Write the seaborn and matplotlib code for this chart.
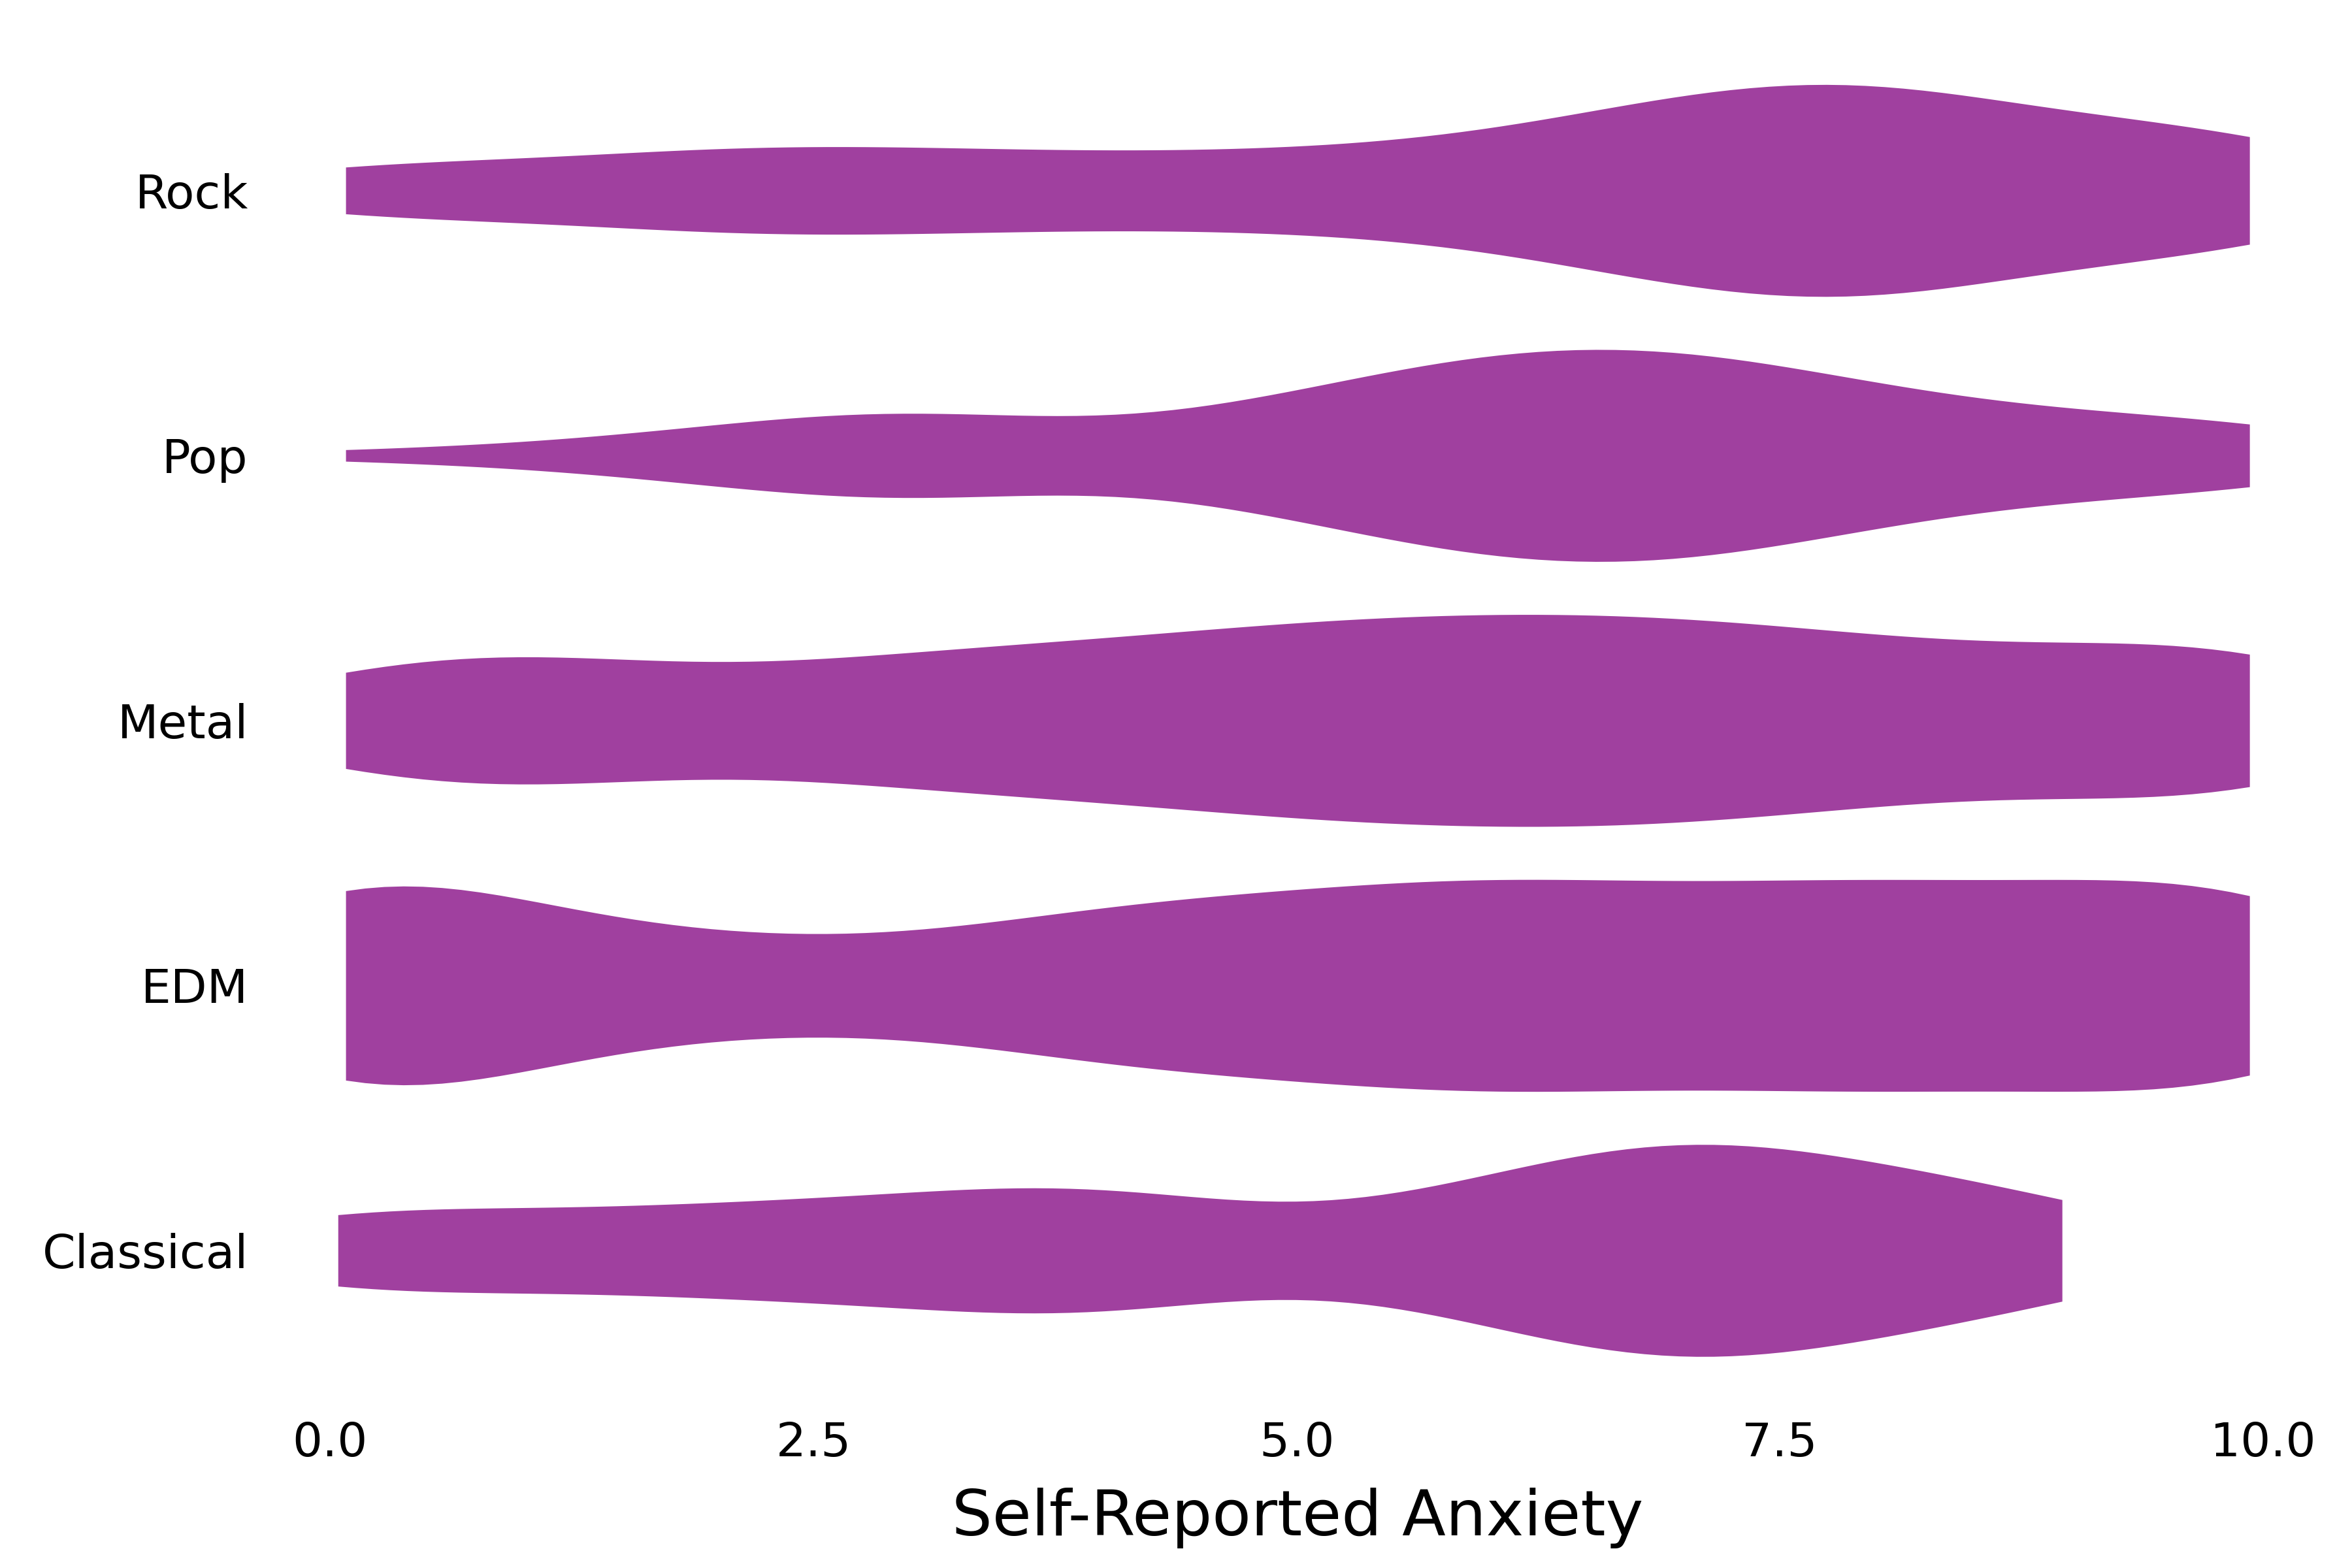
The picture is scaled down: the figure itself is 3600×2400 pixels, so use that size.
import numpy as np
import pandas as pd
import matplotlib
matplotlib.use("Agg")
import matplotlib.pyplot as plt
import seaborn as sns

# ---- data ----
genres = ["Rock", "Pop", "Metal", "EDM", "Classical"]

levels_full = [0.08, 1, 2, 3, 4, 5, 6, 7, 8, 9, 9.93]
levels_classical = [0.04, 1, 2, 3, 4, 5, 6, 7, 8, 8.96]

# number of respondents at each anxiety level
rock_counts = [18, 15, 28, 26, 22, 24, 31, 60, 74, 37, 40]
pop_counts = [1, 2, 6, 12, 4, 13, 23, 24, 14, 8, 8]
metal_counts = [26, 36, 21, 34, 38, 48, 52, 51, 40, 31, 45]
edm_counts = [110, 52, 36, 31, 63, 69, 85, 71, 84, 67, 93]
classical_counts = [23, 16, 22, 24, 37, 8, 34, 60, 38, 24]

x_ticks = [0.0, 2.5, 5.0, 7.5, 10.0]
x_label = "Self-Reported Anxiety"

# ---- build long table ----
series = [
    ("Rock", levels_full, rock_counts),
    ("Pop", levels_full, pop_counts),
    ("Metal", levels_full, metal_counts),
    ("EDM", levels_full, edm_counts),
    ("Classical", levels_classical, classical_counts),
]
frames = []
for g, lv, ct in series:
    vals = np.repeat(np.asarray(lv, dtype=float), ct)
    frames.append(pd.DataFrame({"Genre": g, "Anxiety": vals}))
df = pd.concat(frames, ignore_index=True)

# ---- plot ----
sns.set_theme(style="white")
plt.rcParams["font.family"] = ["DejaVu Sans"]
plt.rcParams["text.color"] = "black"
plt.rcParams["axes.labelcolor"] = "black"
plt.rcParams["xtick.color"] = "black"
plt.rcParams["ytick.color"] = "black"

fig = plt.figure(figsize=(12, 8), dpi=300)
ax = fig.add_axes([0.1067, 0.118, 0.89, 0.845])

sns.violinplot(
    data=df, x="Anxiety", y="Genre", order=genres, orient="h",
    cut=0, inner=None, density_norm="width", width=0.8,
    bw_adjust=0.9, color="#a0409f", saturation=1, linewidth=0, ax=ax,
)

ax.set_xlim(-0.41, 10.42)
ax.set_xticks(x_ticks)
ax.set_xticklabels([f"{t:.1f}" for t in x_ticks])
ax.set_xlabel(x_label, fontsize=23.4, labelpad=8.0, color="black")
ax.set_ylabel("")
ax.tick_params(axis="x", length=0, pad=14, labelsize=17.4, labelcolor="black")
ax.tick_params(axis="y", length=0, pad=1, labelsize=17.4, labelcolor="black")
sns.despine(ax=ax, left=True, bottom=True)
ax.grid(False)

fig.savefig("out.png", dpi=300)
